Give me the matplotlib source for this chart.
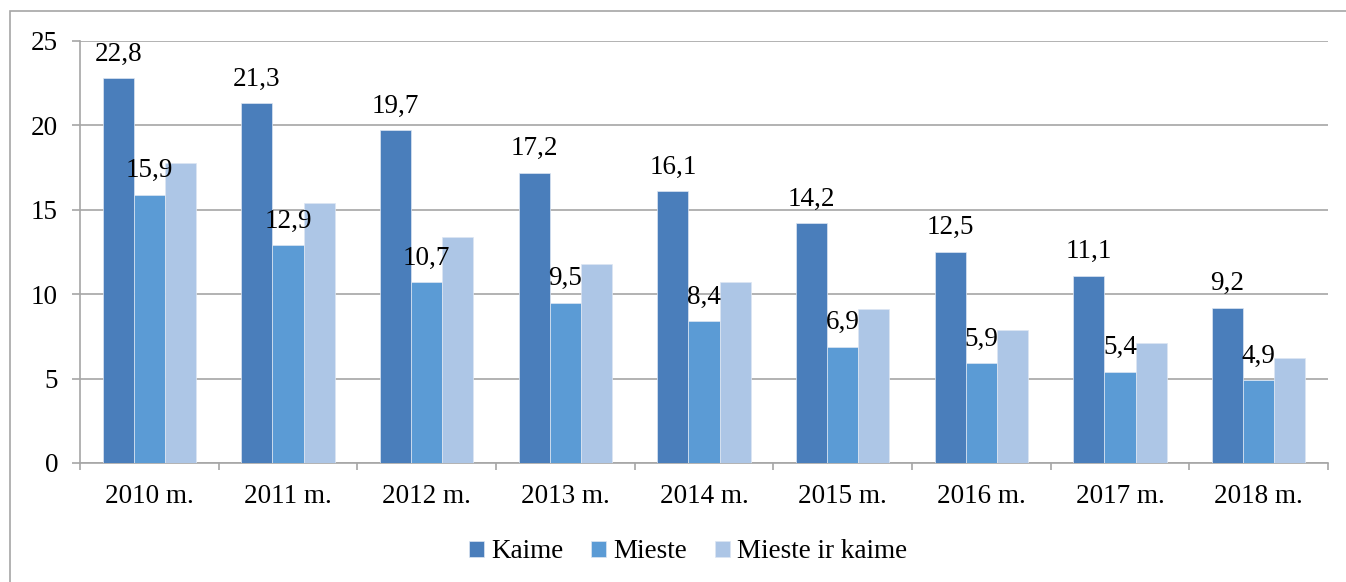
import matplotlib
matplotlib.use("Agg")
import matplotlib.pyplot as plt
import numpy as np
from matplotlib.patches import Rectangle

categories = ["2010 m.", "2011 m.", "2012 m.", "2013 m.", "2014 m.", "2015 m.", "2016 m.", "2017 m.", "2018 m."]
kaime = [22.8, 21.3, 19.7, 17.2, 16.1, 14.2, 12.5, 11.1, 9.2]
mieste = [15.9, 12.9, 10.7, 9.5, 8.4, 6.9, 5.9, 5.4, 4.9]
mieste_ir_kaime = [17.8, 15.4, 13.4, 11.8, 10.7, 9.1, 7.9, 7.1, 6.2]
series_names = ["Kaime", "Mieste", "Mieste ir kaime"]
colors = ["#4A7EBB", "#5B9BD5", "#ADC6E6"]
yticks = [0, 5, 10, 15, 20, 25]

plt.rcParams['font.family'] = ['Liberation Serif', 'DejaVu Serif']
FS = 19.5

W, H = 1346, 582
fig = plt.figure(figsize=(W/100, H/100), dpi=100)
fig.patch.set_facecolor("white")
# outer border
fig.patches.append(Rectangle((10/W, -0.1), 1.2, (H-11)/H + 0.1, transform=fig.transFigure,
                             fill=False, edgecolor="#A6A6A6", linewidth=1.2))

ax = fig.add_axes([80/W, 1-463/H, (1328-80)/W, (463-41)/H])
n = len(categories)
x = np.arange(n)
bw = 0.224
offsets = [-bw, 0, bw]
data = [kaime, mieste, mieste_ir_kaime]
for i, (vals, c, name) in enumerate(zip(data, colors, series_names)):
    bars = ax.bar(x + offsets[i], vals, width=bw, color=c, edgecolor="#DDE6F2", linewidth=0.5, label=name, zorder=3)
    if i < 2:
        for b, v in zip(bars, vals):
            ax.text(b.get_x() + b.get_width()/2, v + 1.05, f"{v:.1f}".replace(".", ","),
                    ha="center", va="baseline", fontsize=FS, color="black", zorder=4)

ax.set_xlim(-0.5, n - 0.5)
ax.set_ylim(0, 25)
ax.set_yticks(yticks)
ax.set_yticklabels([str(t) for t in yticks], fontsize=FS)
ax.yaxis.grid(True, color="#A6A6A6", linewidth=1.2, zorder=0)
ax.set_axisbelow(True)
ax.set_xticks(x)
ax.set_xticklabels(categories, fontsize=FS)
ax.set_xticks(np.arange(n + 1) - 0.5, minor=True)
ax.tick_params(axis="x", which="major", length=0, pad=15)
ax.tick_params(axis="x", which="minor", length=5, color="#A6A6A6", width=1.2)
ax.tick_params(axis="y", length=5.8, color="#A6A6A6", width=1.2, pad=10)
for s in ["top", "right"]:
    ax.spines[s].set_visible(False)
for s in ["left", "bottom"]:
    ax.spines[s].set_color("#A6A6A6")
    ax.spines[s].set_linewidth(1.2)

handles, labels = ax.get_legend_handles_labels()
fig.legend(handles, labels, loc="center", bbox_to_anchor=(688/W, 1-552/H), ncol=3, frameon=False,
           fontsize=FS, handlelength=0.55, handleheight=0.55, handletextpad=0.26, columnspacing=1.04,
           borderpad=0)

fig.savefig("out.png", dpi=100, facecolor="white")
